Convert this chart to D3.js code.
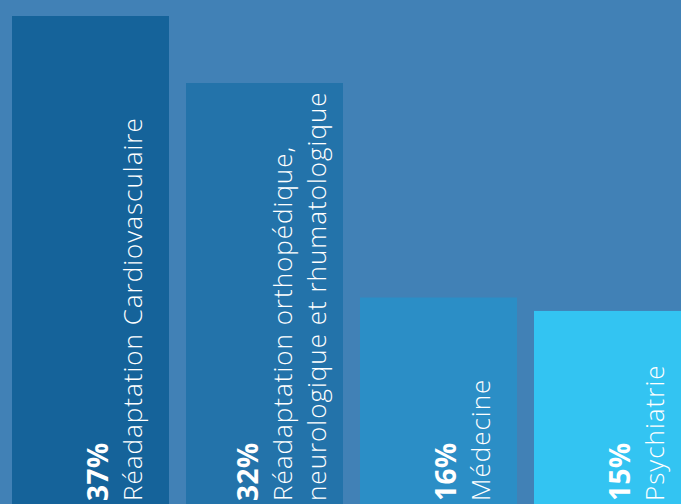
<!DOCTYPE html>
<html>
<head>
<meta charset="utf-8">
<script src="https://cdn.jsdelivr.net/npm/d3@7"></script>
<style>
  html, body { margin: 0; padding: 0; background: #4181b6; overflow: hidden; }
  svg { display: block; }
  text { fill: #fff; font-family: "Open Sans", sans-serif; }
</style>
</head>
<body>
<svg id="chart" width="681" height="504"></svg>
<script>
// shares per service
const categories = ["cardio", "ortho", "medecine", "psy"];
const values = [37, 32, 16, 15];
const labels = [
  ["Réadaptation Cardiovasculaire"],
  ["Réadaptation orthopédique,", "neurologique et rhumatologique"],
  ["Médecine"],
  ["Psychiatrie"]
];
const colors = ["#15639a", "#2373aa", "#2b8ec6", "#33c4f2"];

const svg = d3.select("#chart");

// bars run past the bottom edge of the picture
const x = d3.scaleBand()
    .domain(categories)
    .range([12, 691])
    .paddingInner(17 / 174)
    .paddingOuter(0);

const y = d3.scaleLinear()
    .domain([0, 37])
    .range([512, 16]);

const color = d3.scaleOrdinal().domain(categories).range(colors);

const data = categories.map((c, i) => ({ key: c, value: values[i], lines: labels[i] }));

svg.selectAll(".bar")
    .data(data)
    .join("rect")
    .attr("class", "bar")
    .attr("x", d => x(d.key))
    .attr("y", d => y(d.value))
    .attr("width", x.bandwidth())
    .attr("height", d => y(0) - y(d.value))
    .attr("fill", d => color(d.key));

// rotated labels, reading bottom to top
const g = svg.selectAll(".lab")
    .data(data)
    .join("g")
    .attr("class", "lab")
    .attr("transform", d => `translate(${x(d.key)},501) rotate(-90)`);

const lineGap = 34;
const firstOffset = d => 96 - (d.lines.length - 1) * 24;

g.append("text")
    .attr("x", 0)
    .attr("y", d => firstOffset(d))
    .style("font-size", "28px")
    .style("font-weight", 700)
    .style("letter-spacing", "0.5px")
    .text(d => d.value + "%");

g.selectAll(".line")
    .data(d => d.lines.map((t, i) => ({ t, y: firstOffset(d) + lineGap * (i + 1) })))
    .join("text")
    .attr("class", "line")
    .attr("x", 0)
    .attr("y", d => d.y)
    .style("font-size", "26px")
    .style("font-weight", 300)
    .style("letter-spacing", "1px")
    .text(d => d.t);
</script>
</body>
</html>
